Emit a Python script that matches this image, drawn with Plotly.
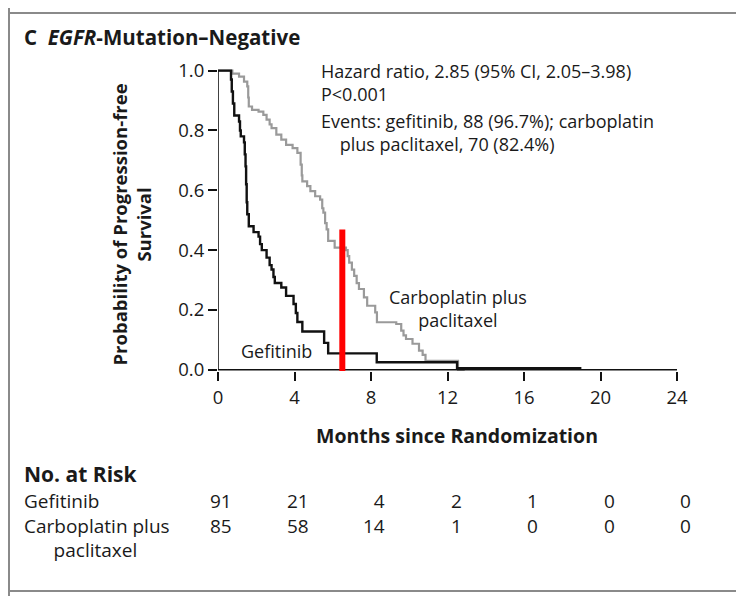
import plotly.graph_objects as go

# ---------------- data ----------------
gef_t = [0, 0.68, 0.72, 0.78, 0.85, 1.10, 1.15, 1.19, 1.36, 1.40, 1.44, 1.47, 1.50, 1.53, 1.61,
         1.86, 2.12, 2.20, 2.29, 2.54, 2.70, 2.80, 2.90, 2.97, 3.31, 3.56, 3.95, 4.07, 4.15, 4.41,
         5.55, 5.76, 8.30, 12.50, 19.0]
gef_s = [1.0, 0.97, 0.93, 0.89, 0.85, 0.83, 0.80, 0.78, 0.76, 0.72, 0.68, 0.62, 0.56, 0.52, 0.48,
         0.46, 0.445, 0.42, 0.40, 0.375, 0.35, 0.335, 0.31, 0.29, 0.275, 0.247, 0.22, 0.19, 0.16, 0.128,
         0.09, 0.055, 0.025, 0.005, 0.005]

carbo_t = [0, 0.75, 1.10, 1.36, 1.53, 1.58, 1.61, 1.78, 2.12, 2.37, 2.54, 2.70, 2.80, 3.05, 3.31,
           3.56, 3.90, 4.15, 4.32, 4.38, 4.41, 4.66, 4.83, 5.08, 5.34, 5.45, 5.51, 5.60, 5.68, 5.76,
           6.10, 6.69, 6.78, 6.86, 7.00, 7.12, 7.25, 7.37, 7.63, 7.80, 8.22, 8.31, 9.32, 9.58, 9.70,
           9.83, 10.17, 10.51, 10.70, 10.85, 12.55, 12.90]
carbo_s = [1.0, 0.99, 0.98, 0.963, 0.947, 0.91, 0.88, 0.869, 0.863, 0.852, 0.836, 0.82, 0.808, 0.786, 0.769,
           0.752, 0.741, 0.725, 0.686, 0.65, 0.63, 0.614, 0.597, 0.58, 0.569, 0.54, 0.525, 0.49, 0.469, 0.431,
           0.408, 0.40, 0.38, 0.358, 0.335, 0.314, 0.29, 0.27, 0.242, 0.214, 0.192, 0.159, 0.153, 0.131, 0.115,
           0.103, 0.087, 0.064, 0.05, 0.03, 0.0, 0.0]

risk_times = [0, 4, 8, 12, 16, 20, 24]
gef_risk = [91, 21, 4, 2, 1, 0, 0]
carbo_risk = [85, 58, 14, 1, 0, 0, 0]

x_ticks = [0, 4, 8, 12, 16, 20, 24]
y_ticks = [0.0, 0.2, 0.4, 0.6, 0.8, 1.0]

marker_x = 6.5
marker_y = [-0.036, 0.469]

# ---------------- layout geometry (page pixels; body has an 8px margin) ----------------
OFF = 8
W, H = 744 - OFF, 596 - OFF
PL, PR, PT, PB = 218, 677, 67, 371   # plot area edges in page pixels
L = PL - OFF
T = PT - OFF
R = W - (PR - OFF)
B = H - (PB - OFF)
PW = W - L - R
PH = H - T - B
FONT = "Open Sans"
TXT = "#1a1a1a"


def px(xp):
    return (xp - OFF - L) / PW


def py(yp):
    return (H - B - (yp - OFF)) / PH


fig = go.Figure()
fig.add_trace(go.Scatter(x=carbo_t, y=carbo_s, mode="lines", line_shape="hv",
                         line=dict(color="#9a9a9a", width=2.2), hoverinfo="skip", showlegend=False))
fig.add_trace(go.Scatter(x=gef_t, y=gef_s, mode="lines", line_shape="hv",
                         line=dict(color="#111111", width=2.4), hoverinfo="skip", showlegend=False))

shapes = [
    dict(type="line", xref="x", yref="y", x0=0, x1=24, y0=0, y1=0, line=dict(color="#111", width=1.6)),
    dict(type="line", xref="x", yref="y", x0=0, x1=0, y0=0, y1=1, line=dict(color="#111", width=1.6)),
    dict(type="line", xref="x", yref="y", x0=marker_x, x1=marker_x, y0=marker_y[0], y1=marker_y[1],
         line=dict(color="#ff0000", width=6), layer="above"),
    # frame
    dict(type="line", xref="paper", yref="paper", x0=px(8), x1=px(744), y0=py(13), y1=py(13),
         line=dict(color="#8a8a8a", width=2)),
    dict(type="line", xref="paper", yref="paper", x0=px(9), x1=px(9), y0=py(8), y1=py(596),
         line=dict(color="#8a8a8a", width=2)),
    dict(type="line", xref="paper", yref="paper", x0=px(8), x1=px(744), y0=py(591), y1=py(591),
         line=dict(color="#8a8a8a", width=2)),
    dict(type="line", xref="paper", yref="paper", x0=px(742), x1=px(742), y0=py(8), y1=py(13),
         line=dict(color="#8a8a8a", width=2)),
]

ann = []


def add(text, x, y, size=18, xanchor="left", yanchor="middle", align="left", **kw):
    ann.append(dict(text=text, x=x, y=y, xref="paper", yref="paper", xanchor=xanchor, yanchor=yanchor,
                    align=align, showarrow=False, font=dict(family=FONT, size=size, color=TXT), **kw))


add("<b>C</b>  <b><i>EGFR</i>-Mutation–Negative</b>", px(22), py(37), size=20.5)
add("Hazard ratio, 2.85 (95% CI, 2.05–3.98)<br>P<0.001", px(319), py(57), size=18, yanchor="top")
add("Events: gefitinib, 88 (96.7%); carboplatin<br>&nbsp;&nbsp;&nbsp;&nbsp;plus paclitaxel, 70 (82.4%)",
    px(319), py(133), size=18, yanchor="middle")
add("Carboplatin plus<br>paclitaxel", px(458), py(308), size=18, xanchor="center", align="center")
add("Gefitinib", px(276), py(351), size=18, xanchor="center")
add("<b>Months since Randomization</b>", px(457), py(435), size=19.5, xanchor="center")
add("<b>Probability of Progression-free<br>Survival</b>", px(130.5), py(225), size=18.5,
    xanchor="center", align="center", textangle=-90)

# risk table
add("<b>No. at Risk</b>", px(22), py(474), size=21)
add("Gefitinib<br>Carboplatin plus<br>&nbsp;&nbsp;&nbsp;&nbsp;&nbsp;&nbsp;paclitaxel",
    px(22), py(486), size=19, yanchor="top")
for t, g, c in zip(risk_times, gef_risk, carbo_risk):
    xr = px(PL + t * (PR - PL) / 24 + 16)
    add(f"{g}<br>{c}", xr, py(486), size=19, xanchor="right", yanchor="top", align="right")

fig.update_layout(
    width=W, height=H,
    margin=dict(l=L, r=R, t=T, b=B, pad=0),
    paper_bgcolor="white", plot_bgcolor="white",
    shapes=shapes, annotations=ann,
    showlegend=False,
    font=dict(family=FONT, color=TXT, size=18),
    xaxis=dict(range=[0, 24], tickvals=x_ticks, ticktext=[str(v) for v in x_ticks],
               showgrid=False, zeroline=False, showline=False,
               ticks="outside", ticklen=9, tickwidth=1.6, tickcolor="#111",
               tickfont=dict(family=FONT, size=18.5, color=TXT), ticklabelstandoff=1),
    yaxis=dict(range=[-0.004, 1.012], tickvals=y_ticks, ticktext=["%.1f" % v for v in y_ticks],
               showgrid=False, zeroline=False, showline=False,
               ticks="outside", ticklen=9, tickwidth=1.6, tickcolor="#111",
               tickfont=dict(family=FONT, size=18.5, color=TXT)),
)

fig.write_html("out.html")
